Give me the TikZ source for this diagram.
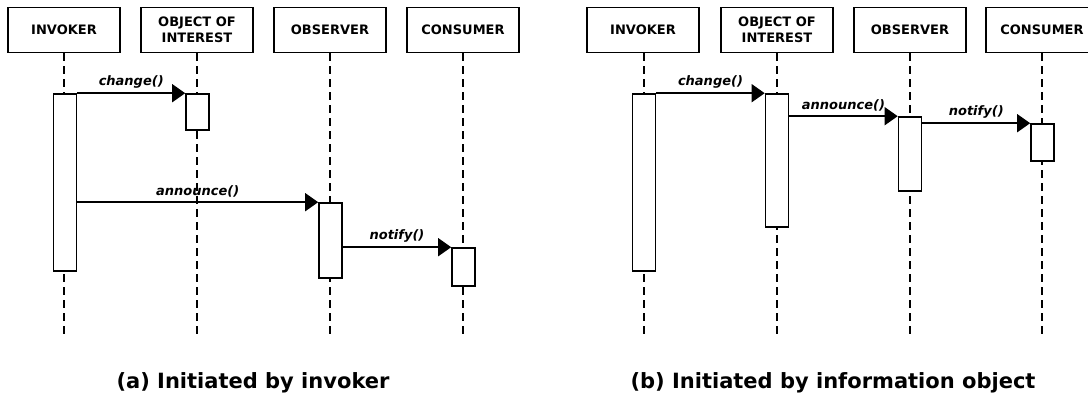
\documentclass[tikz,border=0pt]{standalone}
\usepackage{fontspec}
\setmainfont{DejaVu Sans}
\usetikzlibrary{arrows.meta}

\begin{document}
\begin{tikzpicture}[x=1pt,y=-1pt,
  head/.style={draw,line width=1.7pt,minimum width=112pt,minimum height=45pt,
    inner sep=0pt,align=center,font=\fontsize{13}{15.5}\selectfont\bfseries},
  life/.style={line width=1.6pt,dash pattern=on 8pt off 5pt},
  bar/.style={draw,fill=white,line width=1.6pt,minimum width=23pt,inner sep=0pt},
  msg/.style={line width=1.4pt,-{Triangle[length=13pt,width=18pt]}},
  lbl/.style={font=\fontsize{13}{14}\selectfont\bfseries\itshape,inner sep=0pt,above=4pt},
  caption/.style={font=\fontsize{21}{24}\selectfont\bfseries}]

\useasboundingbox (0,0) rectangle (1088,395);
\clip (0,0) rectangle (1088,395);

% ---------------- (a) initiated by invoker ----------------
\node[head] (hInvA) at (64,30)  {INVOKER};
\node[head] (hObjA) at (197,30) {OBJECT OF\\INTEREST};
\node[head] (hObsA) at (330,30) {OBSERVER};
\node[head] (hConA) at (463,30) {CONSUMER};

\coordinate (eInvA) at (64,337);
\coordinate (eObjA) at (197,337);
\coordinate (eObsA) at (330,337);
\coordinate (eConA) at (463,337);

\draw[life] (hInvA.south) -- (eInvA);
\draw[life] (hObjA.south) -- (eObjA);
\draw[life] (hObsA.south) -- (eObsA);
\draw[life] (hConA.south) -- (eConA);

\node[bar,minimum height=177pt] (aInvA) at (65,182.5)  {};
\node[bar,minimum height=36pt]  (aObjA) at (197.5,112) {};
\node[bar,minimum height=75pt]  (aObsA) at (330.5,240.5) {};
\node[bar,minimum height=38pt]  (aConA) at (463.5,267) {};

\draw[msg] (aInvA.north east) -- (aObjA.north west)
  node[lbl,midway] (lChgA) {change()};
\draw[msg] (aInvA.east |- aObsA.north west) -- (aObsA.north west)
  node[lbl,midway] (lAnnA) {announce()};
\draw[msg] (aObsA.east |- aConA.north west) -- (aConA.north west)
  node[lbl,midway] (lNotA) {notify()};

\node[caption] (capA) at (253,383) {(a) Initiated by invoker};

% ---------------- (b) initiated by information object ----------------
\node[head] (hInvB) at (643,30)  {INVOKER};
\node[head] (hObjB) at (777,30)  {OBJECT OF\\INTEREST};
\node[head] (hObsB) at (910,30)  {OBSERVER};
\node[head] (hConB) at (1042,30) {CONSUMER};

\coordinate (eInvB) at (644,337);
\coordinate (eObjB) at (777,337);
\coordinate (eObsB) at (910,337);
\coordinate (eConB) at (1042,337);

\draw[life] (hInvB.south -| eInvB) -- (eInvB);
\draw[life] (hObjB.south) -- (eObjB);
\draw[life] (hObsB.south) -- (eObsB);
\draw[life] (hConB.south) -- (eConB);

\node[bar,minimum height=177pt] (aInvB) at (644,182.5)  {};
\node[bar,minimum height=133pt] (aObjB) at (777,160.5)  {};
\node[bar,minimum height=74pt]  (aObsB) at (910,154)    {};
\node[bar,minimum height=37pt]  (aConB) at (1042.5,142.5) {};

\draw[msg] (aInvB.north east) -- (aObjB.north west)
  node[lbl,midway] (lChgB) {change()};
\draw[msg] (aObjB.east |- aObsB.north west) -- (aObsB.north west)
  node[lbl,midway] (lAnnB) {announce()};
\draw[msg] (aObsB.east |- aConB.north west) -- (aConB.north west)
  node[lbl,midway] (lNotB) {notify()};

\node[caption] (capB) at (833,383) {(b) Initiated by information object};
\end{tikzpicture}
\end{document}
